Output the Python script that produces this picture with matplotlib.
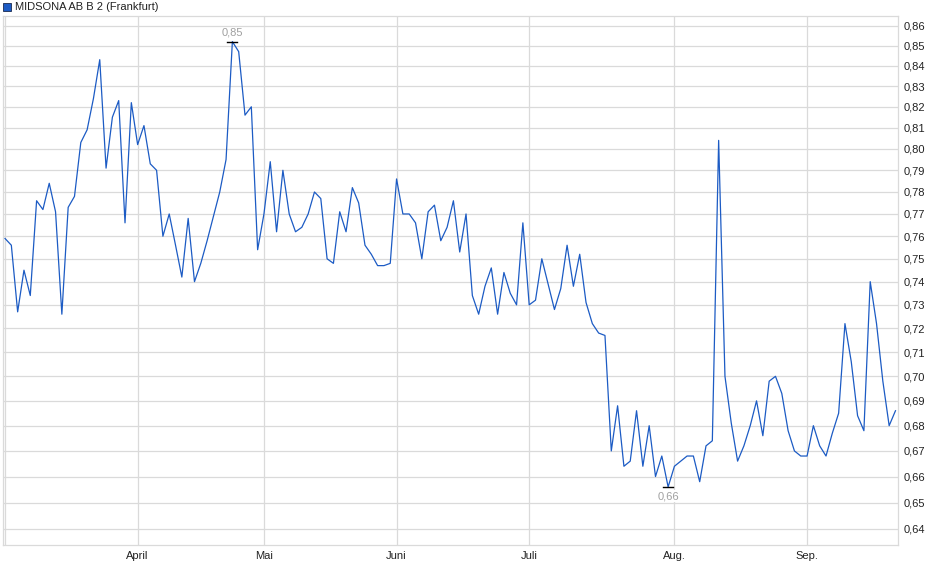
import matplotlib.pyplot as plt
from matplotlib.patches import Rectangle
from matplotlib.ticker import FixedLocator, FuncFormatter, NullLocator
import numpy as np

plt.rcParams['font.family'] = ['Liberation Sans', 'DejaVu Sans']

# Kursverlauf (ein Wert je Handelstag)
kurs = [
    0.759, 0.756, 0.727, 0.745, 0.734, 0.776, 0.772, 0.784, 0.771, 0.726,
    0.773, 0.778, 0.803, 0.809, 0.824, 0.843, 0.791, 0.815, 0.823, 0.766,
    0.822, 0.802, 0.811, 0.793, 0.790, 0.760, 0.770, 0.756, 0.742, 0.768,
    0.740, 0.748, 0.758, 0.769, 0.780, 0.795, 0.852, 0.847, 0.816, 0.820,
    0.754, 0.770, 0.794, 0.762, 0.790, 0.770, 0.762, 0.764, 0.770, 0.780,
    0.777, 0.750, 0.748, 0.771, 0.762, 0.782, 0.775, 0.756, 0.752, 0.747,
    0.747, 0.748, 0.786, 0.770, 0.770, 0.766, 0.750, 0.771, 0.774, 0.758,
    0.764, 0.776, 0.753, 0.770, 0.734, 0.726, 0.738, 0.746, 0.726, 0.744,
    0.735, 0.730, 0.766, 0.730, 0.732, 0.750, 0.739, 0.728, 0.737, 0.756,
    0.738, 0.752, 0.731, 0.722, 0.718, 0.717, 0.670, 0.688, 0.664, 0.666,
    0.686, 0.664, 0.680, 0.660, 0.668, 0.656, 0.664, 0.666, 0.668, 0.668,
    0.658, 0.672, 0.674, 0.804, 0.700, 0.681, 0.666, 0.672, 0.680, 0.690,
    0.676, 0.698, 0.700, 0.693, 0.678, 0.670, 0.668, 0.668, 0.680, 0.672,
    0.668, 0.677, 0.685, 0.722, 0.706, 0.684, 0.678, 0.740, 0.722, 0.698,
    0.680, 0.686,
]

# erster Handelstag je Monat (Index in kurs)
monat_idx = [21, 41, 62, 83, 106, 127]
monat_namen = ["April", "Mai", "Juni", "Juli", "Aug.", "Sep."]

y_ticks = [round(0.64 + 0.01 * k, 2) for k in range(23)]

titel = "MIDSONA AB B 2 (Frankfurt)"
farbe = "#1c5bc4"
grid_farbe = "#dadada"


def main():
    fig = plt.figure(figsize=(9.4, 5.79), dpi=100)
    ax = fig.add_axes([3 / 940, 1 - 545 / 579, 895 / 940, 529 / 579])

    x = np.arange(len(kurs))
    ax.plot(x, kurs, color=farbe, lw=0.9, zorder=3)

    ax.set_yscale("log")
    ax.set_ylim(0.634, 0.8649)
    ax.set_xlim(-0.32, len(kurs) - 1 + 0.4)

    ax.yaxis.set_major_locator(FixedLocator(y_ticks))
    ax.yaxis.set_minor_locator(NullLocator())
    ax.yaxis.set_major_formatter(FuncFormatter(lambda v, p: "{:.2f}".format(v).replace(".", ",")))
    ax.yaxis.tick_right()
    ax.set_xticks(monat_idx)
    ax.set_xticklabels(monat_namen)
    ax.tick_params(axis="both", length=0, labelsize=8, colors="#222222")
    ax.tick_params(axis="y", pad=4)
    ax.tick_params(axis="x", pad=4)

    ax.grid(True, color=grid_farbe, lw=0.9, zorder=0)
    ax.axvline(0, color=grid_farbe, lw=0.9, zorder=0)
    for s in ax.spines.values():
        s.set_color(grid_farbe)
        s.set_linewidth(0.9)

    # Hoch / Tief markieren
    i_max = int(np.argmax(kurs))
    i_min = int(np.argmin(kurs))
    ax.plot([i_max - 0.8, i_max + 0.8], [kurs[i_max]] * 2, color="black", lw=1, zorder=4)
    ax.plot([i_min - 0.8, i_min + 0.8], [kurs[i_min]] * 2, color="black", lw=1, zorder=4)
    ax.annotate("{:.2f}".format(kurs[i_max]).replace(".", ","), (i_max, kurs[i_max]),
                xytext=(0, 3), textcoords="offset points", ha="center", va="bottom",
                fontsize=8, color="#a0a0a0")
    ax.annotate("{:.2f}".format(round(kurs[i_min], 2)).replace(".", ","), (i_min, kurs[i_min]),
                xytext=(0, -3), textcoords="offset points", ha="center", va="top",
                fontsize=8, color="#a0a0a0",
                bbox=dict(boxstyle="square,pad=0.1", fc="white", ec="none"))

    # Legende oben links
    fig.patches.append(Rectangle((3 / 940, 1 - 11 / 579), 8 / 940, 8 / 579,
                                 transform=fig.transFigure, fc=farbe, ec="#1a2a50", lw=0.6))
    fig.text(15 / 940, 1 - 7 / 579, titel, fontsize=8, va="center", ha="left", color="#222222")

    fig.savefig("out.png", dpi=100)


if __name__ == '__main__':
    main()
